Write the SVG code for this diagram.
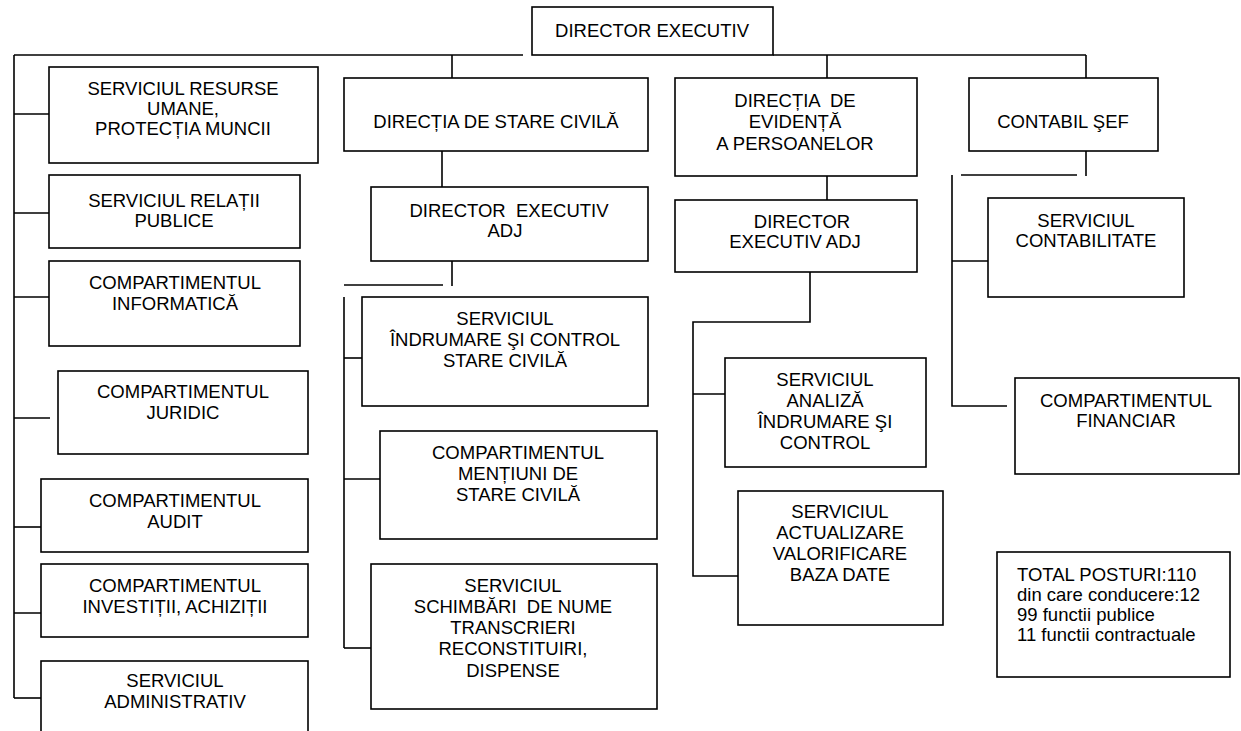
<svg xmlns="http://www.w3.org/2000/svg" width="1241" height="731" viewBox="0 0 1241 731">
<style>
rect{fill:#fff;stroke:#000;stroke-width:1.6}
#connectors line,#connectors polyline{stroke:#000;stroke-width:1.6;fill:none}
text{font-family:"Liberation Sans",Arial,sans-serif;font-size:18.5px;fill:#000;text-anchor:middle}
text.l{text-anchor:start}
</style>
<rect x="0" y="0" width="1241" height="731" style="stroke:none"/>
<g id="connectors">
<line x1="14" y1="55" x2="523" y2="55"/>
<line x1="773" y1="55" x2="1086" y2="55"/>
<line x1="639" y1="42" x2="639" y2="55"/>
<line x1="14" y1="55" x2="14" y2="698"/>
<line x1="14" y1="114" x2="49" y2="114"/>
<line x1="14" y1="213" x2="49" y2="213"/>
<line x1="14" y1="297" x2="49" y2="297"/>
<line x1="14" y1="418" x2="50" y2="418"/>
<line x1="14" y1="527" x2="41" y2="527"/>
<line x1="14" y1="613" x2="50" y2="613"/>
<line x1="14" y1="698" x2="41" y2="698"/>
<line x1="452" y1="55" x2="452" y2="78"/>
<line x1="442" y1="151" x2="442" y2="187"/>
<line x1="452" y1="261" x2="452" y2="286"/>
<line x1="344" y1="285" x2="443" y2="285"/>
<line x1="344" y1="297" x2="344" y2="648"/>
<line x1="344" y1="358" x2="362" y2="358"/>
<line x1="344" y1="479" x2="380" y2="479"/>
<line x1="344" y1="648" x2="371" y2="648"/>
<line x1="827" y1="55" x2="827" y2="78"/>
<line x1="827" y1="176" x2="827" y2="212"/>
<polyline points="810,272 810,322 693,322 693,576 738,576"/>
<line x1="693" y1="394" x2="729" y2="394"/>
<line x1="1086" y1="55" x2="1086" y2="78"/>
<line x1="1086" y1="151" x2="1086" y2="176"/>
<line x1="961" y1="175" x2="1077" y2="175"/>
<polyline points="952,175 952,406 1007,406"/>
<line x1="952" y1="261" x2="988" y2="261"/>
</g>
<g id="director-executiv"><rect x="532" y="7" width="241" height="48"/><text x="652" y="37">DIRECTOR EXECUTIV</text></g>
<g id="resurse-umane"><rect x="49" y="67" width="269" height="96"/><text x="183" y="95">SERVICIUL RESURSE</text><text x="183" y="115">UMANE,</text><text x="183" y="135">PROTECȚIA MUNCII</text></g>
<g id="relatii-publice"><rect x="49" y="175" width="251" height="73"/><text x="174" y="207">SERVICIUL RELAȚII</text><text x="174" y="227">PUBLICE</text></g>
<g id="informatica"><rect x="49" y="261" width="251" height="85"/><text x="175" y="289">COMPARTIMENTUL</text><text x="175" y="310">INFORMATICĂ</text></g>
<g id="juridic"><rect x="58" y="371" width="250" height="83"/><text x="183" y="398">COMPARTIMENTUL</text><text x="183" y="419">JURIDIC</text></g>
<g id="audit"><rect x="41" y="479" width="267" height="73"/><text x="175" y="507">COMPARTIMENTUL</text><text x="175" y="528">AUDIT</text></g>
<g id="investitii"><rect x="41" y="564" width="267" height="73"/><text x="175" y="592">COMPARTIMENTUL</text><text x="175" y="613">INVESTIȚII, ACHIZIȚII</text></g>
<g id="administrativ"><rect x="41" y="661" width="267" height="90"/><text x="175" y="687">SERVICIUL</text><text x="175" y="708">ADMINISTRATIV</text></g>
<g id="directia-stare-civila"><rect x="344" y="78" width="304" height="73"/><text x="496" y="128">DIRECȚIA DE STARE CIVILĂ</text></g>
<g id="director-adj-sc"><rect x="371" y="187" width="277" height="74"/><text x="509" y="217" xml:space="preserve">DIRECTOR  EXECUTIV</text><text x="505" y="237">ADJ</text></g>
<g id="indrumare-sc"><rect x="362" y="297" width="286" height="109"/><text x="505" y="325">SERVICIUL</text><text x="505" y="346">ÎNDRUMARE ŞI CONTROL</text><text x="505" y="367">STARE CIVILĂ</text></g>
<g id="mentiuni"><rect x="380" y="431" width="277" height="108"/><text x="518" y="459">COMPARTIMENTUL</text><text x="518" y="480">MENȚIUNI DE</text><text x="518" y="501">STARE CIVILĂ</text></g>
<g id="schimbari"><rect x="371" y="564" width="286" height="145"/><text x="513" y="592">SERVICIUL</text><text x="513" y="613" xml:space="preserve">SCHIMBĂRI  DE NUME</text><text x="513" y="634">TRANSCRIERI</text><text x="513" y="655">RECONSTITUIRI,</text><text x="513" y="677">DISPENSE</text></g>
<g id="directia-evidenta"><rect x="675" y="78" width="242" height="98"/><text x="795" y="107" xml:space="preserve">DIRECȚIA  DE</text><text x="795" y="128">EVIDENȚĂ</text><text x="795" y="150">A PERSOANELOR</text></g>
<g id="director-adj-ep"><rect x="675" y="200" width="242" height="72"/><text x="802" y="228">DIRECTOR</text><text x="795" y="248">EXECUTIV ADJ</text></g>
<g id="analiza"><rect x="725" y="358" width="201" height="109"/><text x="825" y="386">SERVICIUL</text><text x="825" y="407">ANALIZĂ</text><text x="825" y="428">ÎNDRUMARE ŞI</text><text x="825" y="449">CONTROL</text></g>
<g id="actualizare"><rect x="738" y="491" width="205" height="134"/><text x="840" y="518">SERVICIUL</text><text x="840" y="539">ACTUALIZARE</text><text x="840" y="560">VALORIFICARE</text><text x="840" y="581">BAZA DATE</text></g>
<g id="contabil-sef"><rect x="969" y="78" width="189" height="73"/><text x="1063" y="128">CONTABIL ŞEF</text></g>
<g id="contabilitate"><rect x="988" y="198" width="196" height="99"/><text x="1086" y="227">SERVICIUL</text><text x="1086" y="247">CONTABILITATE</text></g>
<g id="financiar"><rect x="1015" y="378" width="224" height="96"/><text x="1126" y="407">COMPARTIMENTUL</text><text x="1126" y="427">FINANCIAR</text></g>
<g id="total"><rect x="997" y="552" width="233" height="125"/><text class="l" x="1017" y="581">TOTAL POSTURI:110</text><text class="l" x="1017" y="601">din care conducere:12</text><text class="l" x="1017" y="621">99 functii publice</text><text class="l" x="1017" y="641">11 functii contractuale</text></g>
</svg>
